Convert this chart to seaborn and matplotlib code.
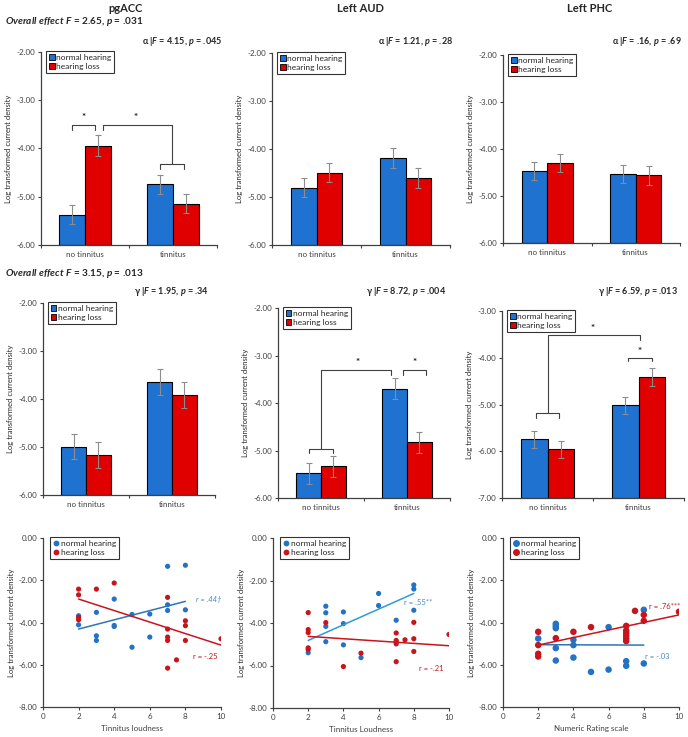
import numpy as np
import pandas as pd
import matplotlib
matplotlib.use("Agg")
import matplotlib.pyplot as plt
from matplotlib.ticker import FormatStrFormatter, FixedLocator
from matplotlib.lines import Line2D
from matplotlib.patches import Patch
import seaborn as sns

groups = ["normal hearing", "hearing loss"]
conditions = ["no tinnitus", "tinnitus"]
regions = ["pgACC", "Left AUD", "Left PHC"]

# alpha band means / errors, order = [no tinnitus, tinnitus]
alpha_pgacc_nh = [-5.37, -4.74]
alpha_pgacc_hl = [-3.94, -5.14]
alpha_pgacc_nh_se = [0.20, 0.20]
alpha_pgacc_hl_se = [0.21, 0.20]
alpha_aud_nh = [-4.81, -4.18]
alpha_aud_hl = [-4.49, -4.60]
alpha_aud_nh_se = [0.20, 0.21]
alpha_aud_hl_se = [0.20, 0.21]
alpha_phc_nh = [-4.47, -4.54]
alpha_phc_hl = [-4.30, -4.56]
alpha_phc_nh_se = [0.19, 0.19]
alpha_phc_hl_se = [0.19, 0.20]

# gamma band
gamma_pgacc_nh = [-4.99, -3.65]
gamma_pgacc_hl = [-5.16, -3.91]
gamma_pgacc_nh_se = [0.27, 0.27]
gamma_pgacc_hl_se = [0.27, 0.27]
gamma_aud_nh = [-5.48, -3.70]
gamma_aud_hl = [-5.33, -4.83]
gamma_aud_nh_se = [0.22, 0.22]
gamma_aud_hl_se = [0.22, 0.22]
gamma_phc_nh = [-5.74, -5.02]
gamma_phc_hl = [-5.96, -4.41]
gamma_phc_nh_se = [0.18, 0.19]
gamma_phc_hl_se = [0.18, 0.19]

overall_stats = ["F = 2.65, p = .031", "F = 3.15, p = .013"]
alpha_stats = ["F = 4.15, p = .045", "F = 1.21, p = .28", "F = .16, p = .69"]
gamma_stats = ["F = 1.95, p = .34", "F = 8.72, p = .004", "F = 6.59, p = .013"]

# correlations (gamma vs tinnitus loudness / NRS)
sc_pgacc_nh_x = [2, 2, 3, 3, 3, 4, 4, 4, 5, 5, 6, 6, 7, 7, 7, 8, 8]
sc_pgacc_nh_y = [-3.68, -4.11, -3.52, -4.63, -4.85, -2.89, -4.14, -4.19, -5.17, -3.62, -3.60, -4.69, -1.34, -3.16, -3.43, -1.29, -3.40]
sc_pgacc_hl_x = [2, 2, 2, 2, 3, 4, 7, 7, 7, 7, 7, 7.5, 8, 8, 8, 10]
sc_pgacc_hl_y = [-2.42, -2.69, -3.75, -3.87, -2.42, -2.13, -2.81, -4.31, -4.69, -4.85, -6.16, -5.77, -3.92, -4.15, -4.85, -4.77]

sc_aud_nh_x = [2, 3, 3, 3, 3, 4, 4, 4, 5, 6, 6, 7, 8, 8, 8]
sc_aud_nh_y = [-5.40, -3.21, -3.52, -4.16, -4.88, -3.48, -4.03, -5.03, -5.63, -2.61, -3.18, -3.87, -2.21, -2.40, -3.40]
sc_aud_hl_x = [2, 2, 2, 2, 2, 3, 4, 5, 7, 7, 7, 7, 7, 7.5, 8, 8, 8, 10]
sc_aud_hl_y = [-3.51, -4.31, -4.45, -5.17, -5.25, -3.98, -6.05, -5.42, -4.47, -4.82, -4.90, -4.98, -5.82, -4.79, -3.97, -4.74, -5.34, -4.54]

sc_phc_nh_x = [2, 3, 3, 3, 3, 3, 4, 4, 4, 5, 6, 6, 7, 7, 8, 8]
sc_phc_nh_y = [-4.76, -4.06, -4.16, -4.27, -5.21, -5.80, -4.82, -5.07, -5.66, -6.34, -4.22, -6.23, -5.83, -6.05, -3.40, -5.94]
sc_phc_hl_x = [2, 2, 2, 2, 3, 4, 5, 7, 7, 7, 7, 7, 7, 7.5, 8, 8, 10]
sc_phc_hl_y = [-4.44, -5.07, -5.48, -5.61, -4.74, -4.44, -4.22, -4.16, -4.38, -4.50, -4.63, -4.76, -4.88, -3.45, -3.64, -3.92, -3.49]

# trend lines as drawn in the figure (start / end)
fit_nh_x = [2, 8]
fit_hl_x = [2, 10]
fit_pgacc_nh = [-4.31, -3.00]
fit_pgacc_hl = [-2.89, -5.07]
fit_aud_nh = [-4.82, -2.61]
fit_aud_hl = [-4.63, -5.07]
fit_phc_nh = [-5.05, -5.07]
fit_phc_hl = [-5.07, -3.64]

sc_xlabels = ["Tinnitus loudness", "Tinnitus Loudness", "Numeric Rating scale"]
r_labels = [["r = .44\u2020", "r = -.25"], ["r = .55**", "r = -.21"], ["r = -.03", "r = .76***"]]

bar_colors = ["#1F72D0", "#E00000"]
dot_colors = ["#2372C3", "#C8141C"]

sns.set_style("ticks")
plt.rcParams["font.family"] = ["Lato", "DejaVu Sans"]
plt.rcParams["mathtext.fontset"] = "custom"
plt.rcParams["mathtext.rm"] = "Lato"
plt.rcParams["mathtext.it"] = "Lato:italic"
plt.rcParams["mathtext.bf"] = "Lato:bold"
try:
    plt.rcParams["mathtext.bfit"] = "Lato:bold:italic"
    FIT = r"\mathbfit"
except KeyError:
    FIT = r"\mathbf"

W, H = 688, 737
fig = plt.figure(figsize=(W / 100, H / 100), dpi=100)
AXC = "#404040"


def px_axes(x0, y0, x1, y1):
    return fig.add_axes([x0 / W, 1 - y1 / H, (x1 - x0) / W, (y1 - y0) / H])


def stat_text(s):
    s = s.replace("F =", "$" + FIT + "{F}$ =").replace("p =", "$" + FIT + "{p}$ =")
    return s


def style_axis(ax):
    sns.despine(ax=ax)
    for sp in ["left", "bottom"]:
        ax.spines[sp].set_color(AXC)
        ax.spines[sp].set_linewidth(0.9)
    ax.tick_params(axis="both", labelsize=5.8, colors=AXC, length=2.5, width=0.8, pad=1.5)
    ax.set_ylabel("Log transformed current density", fontsize=5.5, labelpad=3)


def bar_panel(ax, nh, hl, nh_se, hl_se, ylim):
    df = pd.DataFrame({
        "condition": conditions * 2,
        "group": [groups[0]] * 2 + [groups[1]] * 2,
        "value": nh + hl,
        "se": nh_se + hl_se,
    })
    # bars rise from the axis floor, like the original spreadsheet chart
    df["height"] = df["value"] - ylim[0]
    sns.barplot(data=df, x="condition", y="height", hue="group", order=conditions,
                hue_order=groups, palette=bar_colors, saturation=1, width=0.58,
                edgecolor="black", linewidth=0.8, errorbar=None, bottom=ylim[0],
                legend=False, ax=ax)
    for cont, g in zip(ax.containers, groups):
        sub = df[df.group == g]
        xs = [b.get_x() + b.get_width() / 2 for b in cont]
        tops = [b.get_y() + b.get_height() for b in cont]
        ax.errorbar(xs, tops, yerr=sub["se"].values, fmt="none", ecolor="#8C8C8C",
                    elinewidth=0.8, capsize=2.2, capthick=0.8, zorder=5)
    ax.set_ylim(*ylim)
    ax.set_xlim(-0.5, 1.5)
    ax.yaxis.set_major_formatter(FormatStrFormatter("%.2f"))
    ax.set_yticks(np.arange(ylim[0], ylim[1] + 0.1, 1.0))
    ax.set_xlabel("")
    style_axis(ax)
    ax.tick_params(axis="x", length=0, pad=4)
    ax.xaxis.set_minor_locator(FixedLocator([-0.5, 0.5, 1.5]))
    ax.tick_params(axis="x", which="minor", length=2.5, width=0.8, colors=AXC)
    h = [Patch(facecolor=c, edgecolor="black", linewidth=0.6) for c in bar_colors]
    leg = ax.legend(h, groups, loc="upper left", bbox_to_anchor=(0.03, 1.005), fontsize=6,
                    frameon=True, fancybox=False, edgecolor="black", handlelength=0.7,
                    handleheight=0.7, handletextpad=0.2, labelspacing=0.3, borderpad=0.3,
                    borderaxespad=0.0)
    leg.get_frame().set_linewidth(0.8)


def bracket(ax, xs, ys):
    ax.plot(xs, ys, color=AXC, lw=0.8, clip_on=False)


def star(ax, x, y):
    ax.text(x, y, "*", ha="center", va="center", fontsize=7, fontweight="bold", color="#222222")


def scatter_panel(ax, nh_x, nh_y, hl_x, hl_y, fit_nh, fit_hl, xlabel, line_colors, size):
    df = pd.DataFrame({
        "x": nh_x + hl_x,
        "y": nh_y + hl_y,
        "group": [groups[0]] * len(nh_x) + [groups[1]] * len(hl_x),
    })
    sns.scatterplot(data=df, x="x", y="y", hue="group", hue_order=groups, palette=dot_colors,
                    s=size, linewidth=0, ax=ax, legend=False, zorder=3)
    sns.lineplot(x=fit_nh_x, y=fit_nh, color=line_colors[0], lw=1.1, ax=ax, zorder=4)
    sns.lineplot(x=fit_hl_x, y=fit_hl, color=line_colors[1], lw=1.1, ax=ax, zorder=4)
    ax.set_xlim(0, 10)
    ax.set_ylim(-8, 0)
    ax.set_xticks(range(0, 11, 2))
    ax.set_yticks(range(-8, 1, 2))
    ax.yaxis.set_major_formatter(FormatStrFormatter("%.2f"))
    style_axis(ax)
    ax.set_xlabel(xlabel, fontsize=5.8, color=AXC, labelpad=4)
    handles = [Line2D([], [], marker="o", ls="none", color=c, markersize=np.sqrt(size) * 0.85)
               for c in dot_colors]
    leg = ax.legend(handles, groups, loc="upper left", bbox_to_anchor=(0.04, 1.005), fontsize=6,
                    frameon=True, fancybox=False, edgecolor="black", handlelength=0.8,
                    handletextpad=0.2, labelspacing=0.3, borderpad=0.3, borderaxespad=0.0)
    leg.get_frame().set_linewidth(0.8)


# ---- top row: alpha ----
ax1 = px_axes(41, 52, 217, 245)
bar_panel(ax1, alpha_pgacc_nh, alpha_pgacc_hl, alpha_pgacc_nh_se, alpha_pgacc_hl_se, (-6, -2))
bracket(ax1, [-0.15, -0.15, 0.11, 0.11], [-3.62, -3.52, -3.52, -3.62])
star(ax1, -0.02, -3.36)
bracket(ax1, [0.21, 0.21, 0.99, 0.99], [-3.62, -3.52, -3.52, -4.33])
bracket(ax1, [0.85, 0.85, 1.12, 1.12], [-4.42, -4.33, -4.33, -4.42])
star(ax1, 0.58, -3.36)

ax2 = px_axes(272, 53, 450, 245)
bar_panel(ax2, alpha_aud_nh, alpha_aud_hl, alpha_aud_nh_se, alpha_aud_hl_se, (-6, -2))

ax3 = px_axes(503, 55, 680, 243)
bar_panel(ax3, alpha_phc_nh, alpha_phc_hl, alpha_phc_nh_se, alpha_phc_hl_se, (-6, -2))

# ---- middle row: gamma ----
ax4 = px_axes(43, 303, 215, 495)
bar_panel(ax4, gamma_pgacc_nh, gamma_pgacc_hl, gamma_pgacc_nh_se, gamma_pgacc_hl_se, (-6, -2))

ax5 = px_axes(278, 308, 450, 498)
bar_panel(ax5, gamma_aud_nh, gamma_aud_hl, gamma_aud_nh_se, gamma_aud_hl_se, (-6, -2))
bracket(ax5, [-0.14, -0.14, 0.14, 0.14], [-5.05, -4.97, -4.97, -5.05])
bracket(ax5, [0.0, 0.0, 0.81, 0.81], [-4.97, -3.3, -3.3, -3.4])
star(ax5, 0.42, -3.15)
bracket(ax5, [0.95, 0.95, 1.22, 1.22], [-3.4, -3.3, -3.3, -3.4])
star(ax5, 1.09, -3.15)

ax6 = px_axes(502, 311, 684, 498)
bar_panel(ax6, gamma_phc_nh, gamma_phc_hl, gamma_phc_nh_se, gamma_phc_hl_se, (-7, -3))
bracket(ax6, [-0.13, -0.13, 0.13, 0.13], [-5.28, -5.19, -5.19, -5.28])
bracket(ax6, [0.0, 0.0, 1.02, 1.02], [-5.19, -3.52, -3.52, -3.61])
star(ax6, 0.5, -3.37)
bracket(ax6, [0.88, 0.88, 1.15, 1.15], [-4.08, -4.0, -4.0, -4.08])
star(ax6, 1.01, -3.86)

# ---- bottom row: correlations ----
ax7 = px_axes(43, 538, 221, 707)
scatter_panel(ax7, sc_pgacc_nh_x, sc_pgacc_nh_y, sc_pgacc_hl_x, sc_pgacc_hl_y,
              fit_pgacc_nh, fit_pgacc_hl, sc_xlabels[0], ["#2E75B6", "#C8141C"], 14)
ax7.text(8.6, -2.92, r_labels[0][0], fontsize=5.5, color="#4A86C5", va="center", style="italic")
ax7.text(8.45, -5.6, r_labels[0][1], fontsize=5.5, color="#C8141C", va="center")

ax8 = px_axes(273, 538, 449, 708)
scatter_panel(ax8, sc_aud_nh_x, sc_aud_nh_y, sc_aud_hl_x, sc_aud_hl_y,
              fit_aud_nh, fit_aud_hl, sc_xlabels[1], ["#2E9AD6", "#C8141C"], 14)
ax8.text(7.45, -3.04, r_labels[1][0], fontsize=5.5, color="#4A86C5", va="center")
ax8.text(8.3, -6.15, r_labels[1][1], fontsize=5.5, color="#C8141C", va="center")

ax9 = px_axes(503, 538, 679, 707)
scatter_panel(ax9, sc_phc_nh_x, sc_phc_nh_y, sc_phc_hl_x, sc_phc_hl_y,
              fit_phc_nh, fit_phc_hl, sc_xlabels[2], ["#2E75B6", "#C8141C"], 22)
ax9.text(8.05, -5.6, r_labels[2][0], fontsize=5.5, color="#4A86C5", va="center")
ax9.text(8.28, -3.24, r_labels[2][1], fontsize=5.5, color="#C8141C", va="center")

# ---- figure texts ----
for name, cx in zip(regions, [126, 360, 590]):
    fig.text(cx / W, 1 - 9 / H, name, ha="center", va="center", fontsize=8, fontweight="bold")

for s, yy in zip(overall_stats, [22, 273]):
    rest = s.split("= ", 1)[1].replace("p =", "$" + FIT + "{p}$ =")
    fig.text(5 / W, 1 - yy / H, "$" + FIT + r"{Overall\ effect\ F}$ = " + rest,
             ha="left", va="center", fontsize=7.2, fontweight="bold")

for s, rx in zip(alpha_stats, [222, 453, 682]):
    fig.text(rx / W, 1 - 42 / H, "\u03b1 |" + stat_text(s), ha="right", va="center",
             fontsize=6.5, fontweight="bold")
for s, rx in zip(gamma_stats, [209, 446, 678]):
    fig.text(rx / W, 1 - 292 / H, "\u03b3 |" + stat_text(s), ha="right", va="center",
             fontsize=6.5, fontweight="bold")

fig.savefig("out.png", dpi=100)
